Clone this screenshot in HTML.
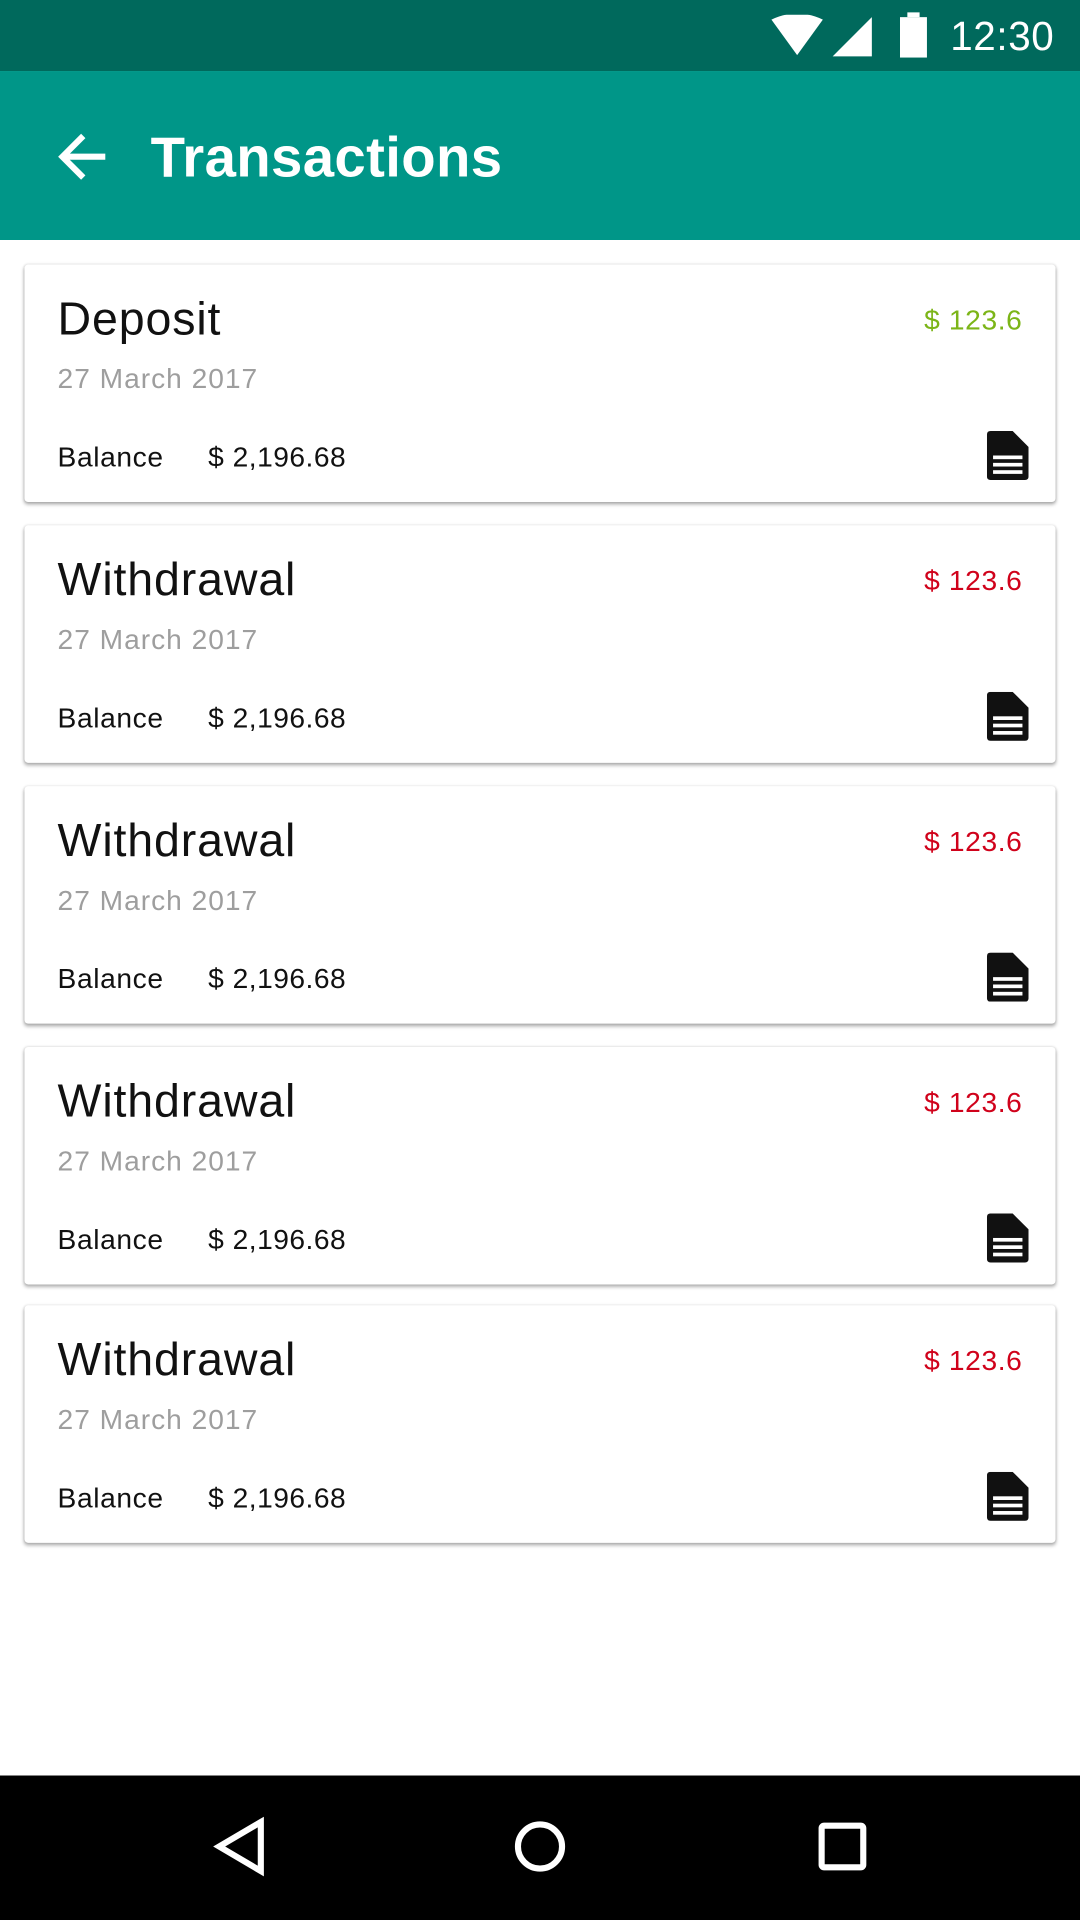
<!DOCTYPE html>
<html><head><meta charset="utf-8">
<style>
html,body{margin:0;padding:0;width:1080px;height:1920px;overflow:hidden;background:#fff;}
#wrap{position:absolute;left:0;top:0;width:882px;height:1568px;transform:scale(1.22449);transform-origin:0 0;font-family:"Liberation Sans",sans-serif;}
.status{position:absolute;left:0;top:0;width:882px;height:58px;background:#00695c;}
.appbar{position:absolute;left:0;top:58px;width:882px;height:138px;background:#009688;}
.title{position:absolute;left:123px;top:100px;font-size:46px;font-weight:bold;color:#fff;line-height:56px;letter-spacing:0.3px;}
.time{position:absolute;left:776px;top:10px;font-size:33px;color:#fff;line-height:40px;letter-spacing:0.5px;}
.card{position:absolute;left:20px;width:842px;height:194px;background:#fff;border-radius:3px;box-shadow:0 2px 3px rgba(0,0,0,0.3),0 0 2px rgba(0,0,0,0.12);}
.ctitle{position:absolute;left:27px;top:22px;font-size:38px;color:#111;line-height:46px;letter-spacing:0.7px;}
.cdate{position:absolute;left:27px;top:79px;font-size:23px;color:#9e9e9e;line-height:28px;letter-spacing:0.8px;}
.cbal{position:absolute;left:27px;top:143px;font-size:23px;color:#111;line-height:28px;letter-spacing:0.5px;}
.cbalv{position:absolute;left:150px;top:143px;font-size:23px;color:#111;line-height:28px;letter-spacing:0.4px;}
.camt{position:absolute;right:27px;top:31px;font-size:23px;line-height:28px;letter-spacing:0.5px;}
.cicon{position:absolute;left:786px;top:136px;}
.nav{position:absolute;left:0;top:1450px;width:882px;height:118px;background:#000;}
</style></head><body>
<div id="wrap">
<div class="status">
<svg style="position:absolute;left:628px;top:12px" width="88" height="36">
<path d="M2 4 Q23 -6 44 4 L23 33 Z" fill="#fff"/><path d="M84 2 L84 34 L52 34 Z" fill="#fff"/></svg>
<svg style="position:absolute;left:734px;top:10px" width="24" height="38"><rect x="7" y="0" width="10" height="4" fill="#fff"/><rect x="1" y="4" width="22" height="33" fill="#fff"/></svg>
<div class="time">12:30</div>
</div>
<div class="appbar">
<svg style="position:absolute;left:46px;top:50px" width="44" height="40"><path d="M4 20 H40 M22 3 L5 20 L22 37" stroke="#fff" stroke-width="5" fill="none"/></svg>
<div class="title" style="top:42px">Transactions</div>
</div>
<div id="cards"></div>
<div class="nav">
<svg style="position:absolute;left:0;top:0" width="882" height="118">
<path d="M213 38 L179 58 L213 78 Z" fill="none" stroke="#fff" stroke-width="5"/>
<circle cx="441" cy="58" r="18" fill="none" stroke="#fff" stroke-width="5"/>
<rect x="671" y="41" width="34" height="34" rx="2" fill="none" stroke="#fff" stroke-width="5"/>
</svg></div>
</div>
<script>
const titles=["Deposit","Withdrawal","Withdrawal","Withdrawal","Withdrawal"];
const amounts=["$ 123.6","$ 123.6","$ 123.6","$ 123.6","$ 123.6"];
const dates=["27 March 2017","27 March 2017","27 March 2017","27 March 2017","27 March 2017"];
const balances=["$ 2,196.68","$ 2,196.68","$ 2,196.68","$ 2,196.68","$ 2,196.68"];
const tops=[216,429,642,855,1066];
const wrap=document.getElementById('wrap');
titles.forEach((t,i)=>{
const c=document.createElement('div');c.className='card';c.style.top=tops[i]+'px';


const col=t==='Deposit'?'#7cb518':'#d0021b';
c.innerHTML='<div class="ctitle">'+t+'</div>'+
'<div class="camt" style="color:'+col+'">'+amounts[i]+'</div>'+
'<div class="cdate">'+dates[i]+'</div>'+
'<div class="cbal">Balance</div>'+
'<div class="cbalv">'+balances[i]+'</div>'+
'<svg class="cicon" width="34" height="40"><path d="M3 0 H21 L34 13 V37 Q34 40 31 40 H3 Q0 40 0 37 V3 Q0 0 3 0 Z" fill="#111"/><rect x="5" y="20" width="24" height="3" fill="#fff"/><rect x="5" y="26" width="24" height="3" fill="#fff"/><rect x="5" y="32" width="24" height="3" fill="#fff"/></svg>';
wrap.appendChild(c);
});
</script>
</body></html>
